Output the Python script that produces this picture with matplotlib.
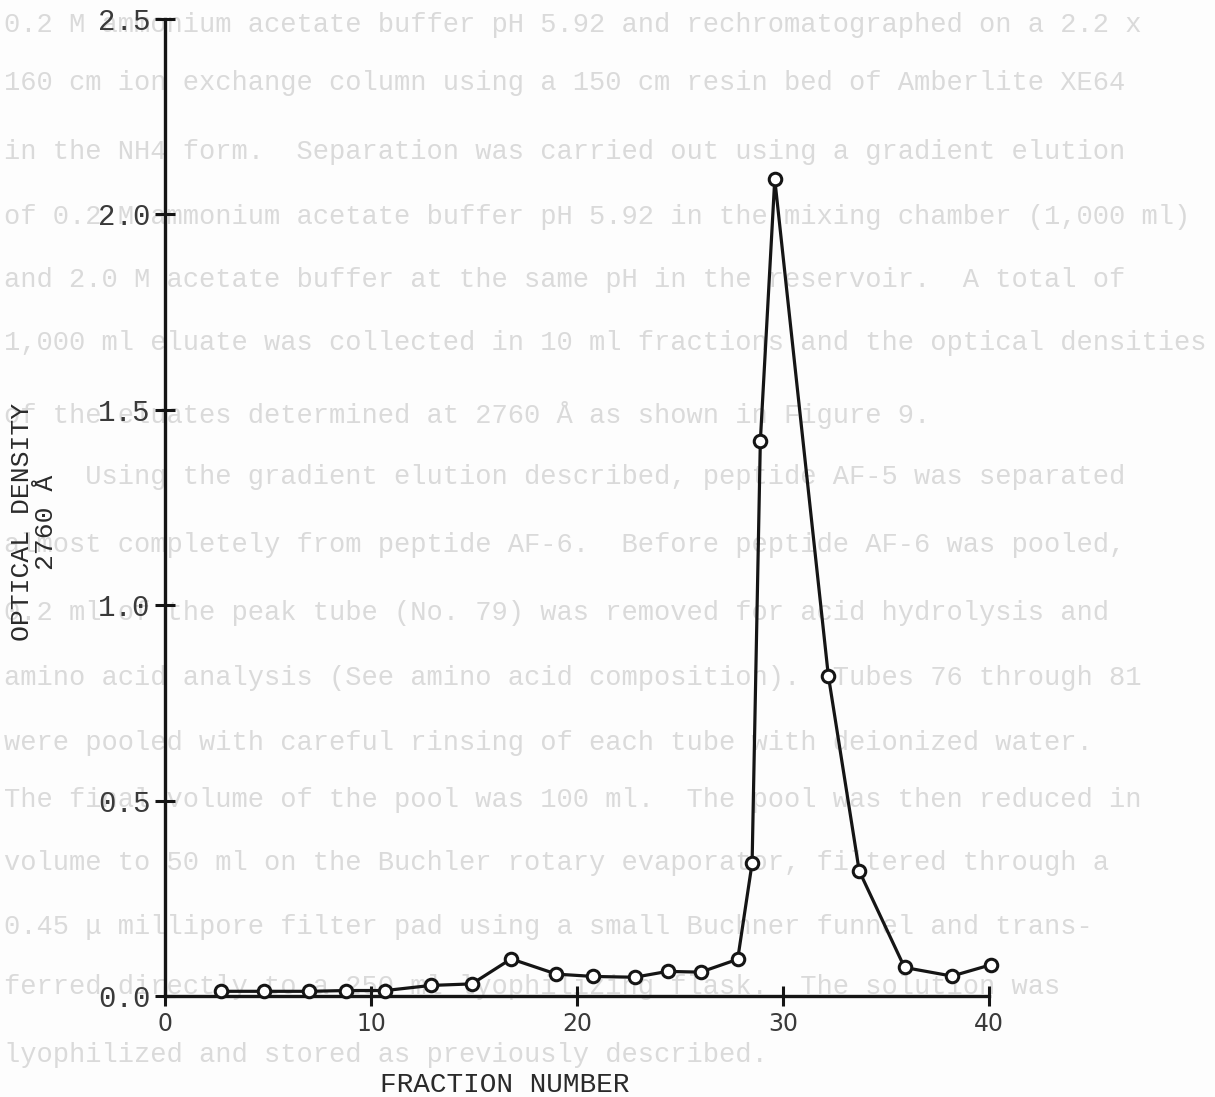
import matplotlib
matplotlib.use('Agg')
import matplotlib.pyplot as plt

# fraction number / optical density at 2760 A
fraction = [2.7, 4.8, 7.0, 8.8, 10.7, 12.9, 14.9, 16.8, 19.0, 20.8, 22.8,
            24.4, 26.0, 27.8, 28.5, 28.9, 29.6, 32.2, 33.7, 35.9, 38.2, 40.1]
od = [0.012, 0.012, 0.012, 0.014, 0.014, 0.027, 0.031, 0.095, 0.056, 0.050,
      0.048, 0.063, 0.061, 0.094, 0.34, 1.42, 2.09, 0.82, 0.32, 0.073,
      0.051, 0.080]

x_ticks = [0, 10, 20, 30, 40]
y_ticks = [0.0, 0.5, 1.0, 1.5, 2.0, 2.5]

# faint typed text showing through from the other side of the page
bg_lines = [
    "0.2 M ammonium acetate buffer pH 5.92 and rechromatographed on a 2.2 x",
    "160 cm ion exchange column using a 150 cm resin bed of Amberlite XE64",
    "in the NH4 form.  Separation was carried out using a gradient elution",
    "of 0.2 M ammonium acetate buffer pH 5.92 in the mixing chamber (1,000 ml)",
    "and 2.0 M acetate buffer at the same pH in the reservoir.  A total of",
    "1,000 ml eluate was collected in 10 ml fractions and the optical densities",
    "of the eluates determined at 2760 Å as shown in Figure 9.",
    "     Using the gradient elution described, peptide AF-5 was separated",
    "almost completely from peptide AF-6.  Before peptide AF-6 was pooled,",
    "0.2 ml of the peak tube (No. 79) was removed for acid hydrolysis and",
    "amino acid analysis (See amino acid composition).  Tubes 76 through 81",
    "were pooled with careful rinsing of each tube with deionized water.",
    "The final volume of the pool was 100 ml.  The pool was then reduced in",
    "volume to 50 ml on the Buchler rotary evaporator, filtered through a",
    "0.45 μ millipore filter pad using a small Buchner funnel and trans-",
    "ferred directly to a 250 ml lyophilizing flask.  The solution was",
    "lyophilized and stored as previously described.",
]
bg_y = [25, 83, 152, 217, 280, 343, 415, 477, 545, 613, 678, 743, 800,
        863, 927, 987, 1055]

W, H = 1215, 1097
fig = plt.figure(figsize=(W / 100, H / 100), dpi=100)
fig.patch.set_facecolor('#fdfdfd')

for line, yp in zip(bg_lines, bg_y):
    fig.text(4 / W, 1 - yp / H, line, ha='left', va='center',
             family='Liberation Mono', fontsize=19.5, color='#dadada',
             zorder=-1)

# axes: 0 at x=165px, 20.6 px per fraction; y 0 at 996px, 2.5 at 19px
ax = fig.add_axes([165 / W, (H - 996) / H, 40.3 * 20.6 / W, 977 / H])
ax.set_facecolor('none')
ax.set_xlim(0, 40.3)
ax.set_ylim(0, 2.5)

ax.plot(fraction, od, color='#151515', lw=2.3, marker='o', ms=9,
        mfc='white', mec='#151515', mew=2.2, clip_on=False, zorder=3)

for s in ['top', 'right']:
    ax.spines[s].set_visible(False)
for s in ['left', 'bottom']:
    ax.spines[s].set_linewidth(2.4)
    ax.spines[s].set_color('#151515')
ax.spines['bottom'].set_bounds(0, 40)

ax.set_xticks(x_ticks)
ax.set_xticklabels([str(t) for t in x_ticks], family='DejaVu Sans',
                   fontsize=17, color='#3a3a3a')
ax.set_yticks(y_ticks)
ax.set_yticklabels(['%.1f' % t for t in y_ticks], family='Liberation Mono',
                   fontsize=21, color='#3a3a3a')
ax.tick_params(axis='both', direction='inout', length=15, width=2.2,
               color='#151515')
ax.tick_params(axis='x', pad=4)
ax.tick_params(axis='y', pad=3)

fig.text(34 / W, 1 - 522 / H, 'OPTICAL DENSITY\n2760 Å', rotation=90,
         ha='center', va='center', multialignment='center',
         family='Liberation Mono', fontsize=19, color='#2a2a2a',
         linespacing=1.0)
fig.text(505 / W, 1 - 1085 / H, 'FRACTION NUMBER', ha='center', va='center',
         family='Liberation Mono', fontsize=20, color='#2a2a2a')

fig.savefig('out.png', dpi=100, facecolor=fig.get_facecolor())
